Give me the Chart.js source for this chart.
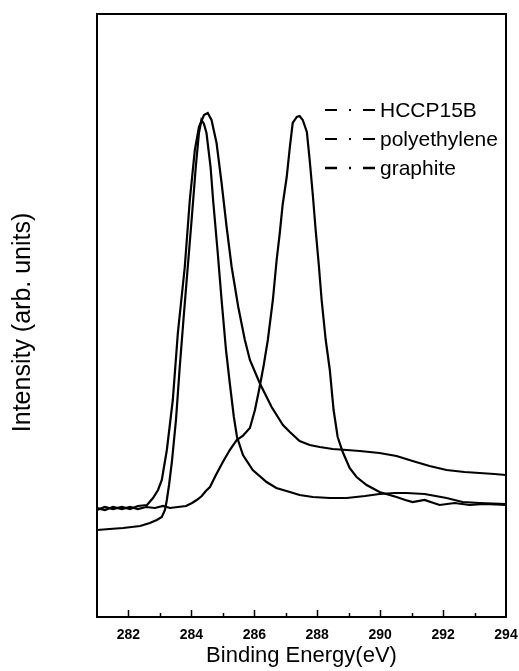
<!DOCTYPE html>
<html>
<head>
<meta charset="utf-8">
<title>C1s spectra</title>
<script src="https://cdn.jsdelivr.net/npm/chart.js@4.4.1/dist/chart.umd.min.js"></script>
<style>
    html, body { margin: 0; padding: 0; background: #fff; }
    canvas { display: block; }
</style>
</head>
<body>
<canvas id="xpsChart" width="519" height="671"></canvas>
<script>
// Series labels (legend order)
const seriesNames = ['HCCP15B', 'polyethylene', 'graphite'];

// HCCP15B - peak near 287.4 eV
const hccpEnergy = [281.00, 281.25, 281.51, 281.79, 282.05, 282.30, 282.56, 282.84, 283.10, 283.32,
    283.57, 283.83, 284.02, 284.17, 284.33, 284.46, 284.59, 284.78, 285.00, 285.22,
    285.44, 285.63, 285.86, 286.02, 286.17, 286.30, 286.43, 286.59, 286.71, 286.81,
    286.90, 287.03, 287.13, 287.22, 287.35, 287.44, 287.54, 287.67, 287.76, 287.86,
    287.95, 288.05, 288.14, 288.27, 288.40, 288.52, 288.65, 288.81, 289.03, 289.25,
    289.57, 289.98, 290.30, 290.52, 290.80, 291.03, 291.41, 291.70, 291.89, 292.37,
    292.84, 293.32, 294.00];
const hccpIntensity = [109, 107, 110, 108, 110, 108, 110, 109, 111, 109,
    110, 111, 114, 117, 121, 126, 130, 142, 155, 167,
    177, 181, 189, 207, 230, 252, 277, 317, 357, 384,
    412, 440, 470, 494, 500, 501, 497, 485, 457, 422,
    387, 352, 317, 277, 247, 207, 180, 165, 149, 140,
    132, 125, 122, 120, 117, 115, 117, 114, 112, 114,
    112, 113, 112];

// polyethylene - narrow peak near 284.3 eV, low baseline
const peEnergy = [281.00, 281.40, 281.83, 282.37, 282.68, 282.90, 283.06, 283.16, 283.22, 283.29,
    283.38, 283.51, 283.63, 283.76, 283.89, 284.02, 284.14, 284.24, 284.32, 284.40,
    284.48, 284.61, 284.69, 284.83, 284.96, 285.10, 285.22, 285.35, 285.45, 285.64,
    285.95, 286.39, 286.70, 287.13, 287.44, 287.86, 288.40, 288.94, 289.52, 289.98,
    290.46, 290.84, 291.41, 292.11, 292.62, 293.16, 294.00];
const peIntensity = [87, 88, 89, 91, 94, 97, 100, 107, 117, 132,
    155, 197, 250, 302, 352, 402, 450, 484, 497, 493,
    484, 450, 417, 367, 317, 267, 234, 200, 180, 162,
    147, 135, 129, 125, 122, 120, 119, 119, 121, 123,
    124, 124, 123, 119, 115, 114, 113];

// graphite - peak near 284.5 eV with long high-energy tail
const graphiteEnergy = [281.00, 281.25, 281.51, 281.79, 282.05, 282.30, 282.59, 282.78, 282.94, 283.06,
    283.22, 283.41, 283.57, 283.79, 283.95, 284.11, 284.24, 284.40, 284.52, 284.64,
    284.80, 284.96, 285.12, 285.28, 285.49, 285.70, 285.86, 286.17, 286.55, 286.91,
    287.13, 287.44, 287.76, 288.08, 288.49, 288.94, 289.35, 289.98, 290.52, 291.03,
    291.57, 292.11, 292.68, 293.16, 293.63, 294.00];
const graphiteIntensity = [107, 110, 108, 110, 108, 111, 112, 119, 127, 137,
    167, 217, 284, 350, 417, 467, 490, 502, 504, 497,
    474, 434, 390, 350, 310, 277, 257, 234, 210, 192,
    185, 176, 172, 170, 168, 167, 166, 164, 161, 156,
    151, 147, 145, 144, 143, 142];

// x axis range and labelled ticks
const xMin = 281, xMax = 294;
const xTickLabels = [282, 284, 286, 288, 290, 292, 294];

const toPoints = (xs, ys) => xs.map((x, i) => ({ x: x, y: ys[i] }));

Chart.defaults.font.family = '"Liberation Sans", Arial, sans-serif';
Chart.defaults.color = '#000';

// frame, inward ticks and the dash-dot legend inside the plot
const framePlugin = {
    id: 'frame',
    afterDraw(chart) {
        const { ctx, chartArea: a, scales } = chart;
        ctx.save();
        ctx.strokeStyle = '#000';
        ctx.lineWidth = 2;
        ctx.strokeRect(a.left, a.top, a.right - a.left, a.bottom - a.top);

        // bottom ticks, pointing up into the plot
        ctx.lineWidth = 1.5;
        for (let v = xMin + 1; v < xMax; v++) {
            const px = Math.round(scales.x.getPixelForValue(v)) + 0.5;
            const len = xTickLabels.includes(v) ? 7 : 4;
            ctx.beginPath();
            ctx.moveTo(px, a.bottom);
            ctx.lineTo(px, a.bottom - len);
            ctx.stroke();
        }

        // legend
        const x0 = a.right - 181;
        ctx.font = '21px "Liberation Sans", Arial, sans-serif';
        ctx.textBaseline = 'alphabetic';
        ctx.fillStyle = '#000';
        chart.data.datasets.forEach((ds, i) => {
            const y = a.top + 96 + i * 29;
            ctx.lineWidth = i === 2 ? 2.5 : 1.8;
            ctx.beginPath();
            ctx.moveTo(x0, y); ctx.lineTo(x0 + 12, y);
            ctx.moveTo(x0 + 24, y); ctx.lineTo(x0 + 26, y);
            ctx.moveTo(x0 + 38, y); ctx.lineTo(x0 + 50, y);
            ctx.stroke();
            ctx.fillText(ds.label, x0 + 55, y + 7);
        });
        ctx.restore();
    }
};

const lineStyle = {
    borderColor: '#000',
    backgroundColor: '#000',
    borderWidth: 2.2,
    pointRadius: 0,
    showLine: true,
    tension: 0,
    fill: false
};

new Chart(document.getElementById('xpsChart'), {
    type: 'scatter',
    data: {
        datasets: [
            { ...lineStyle, label: seriesNames[0], data: toPoints(hccpEnergy, hccpIntensity) },
            { ...lineStyle, label: seriesNames[1], data: toPoints(peEnergy, peIntensity) },
            { ...lineStyle, label: seriesNames[2], data: toPoints(graphiteEnergy, graphiteIntensity) }
        ]
    },
    options: {
        responsive: false,
        animation: false,
        devicePixelRatio: 1,
        layout: { padding: { top: 14, right: 13, left: 0, bottom: 0 } },
        plugins: {
            legend: { display: false },
            tooltip: { enabled: false }
        },
        scales: {
            x: {
                type: 'linear',
                min: xMin,
                max: xMax,
                grid: { display: false, drawTicks: false },
                border: { display: false },
                ticks: {
                    stepSize: 1,
                    autoSkip: false,
                    maxRotation: 0,
                    padding: 10,
                    font: { size: 14, weight: 'bold' },
                    callback: (v) => xTickLabels.includes(v) ? String(v) : ''
                },
                title: {
                    display: true,
                    text: 'Binding Energy(eV)',
                    font: { size: 22 },
                    padding: { top: 0, bottom: 2 }
                },
                afterFit: (s) => { s.height = 54; s.paddingLeft = 0; s.paddingRight = 0; }
            },
            y: {
                type: 'linear',
                min: 0,
                max: 603,
                grid: { display: false, drawTicks: false },
                border: { display: false },
                ticks: { display: false },
                title: {
                    display: true,
                    text: 'Intensity (arb. units)\u00a0\u00a0',
                    font: { size: 25 },
                    padding: { top: 8, bottom: 0 }
                },
                afterFit: (s) => { s.width = 97; }
            }
        }
    },
    plugins: [framePlugin]
});
</script>
</body>
</html>
